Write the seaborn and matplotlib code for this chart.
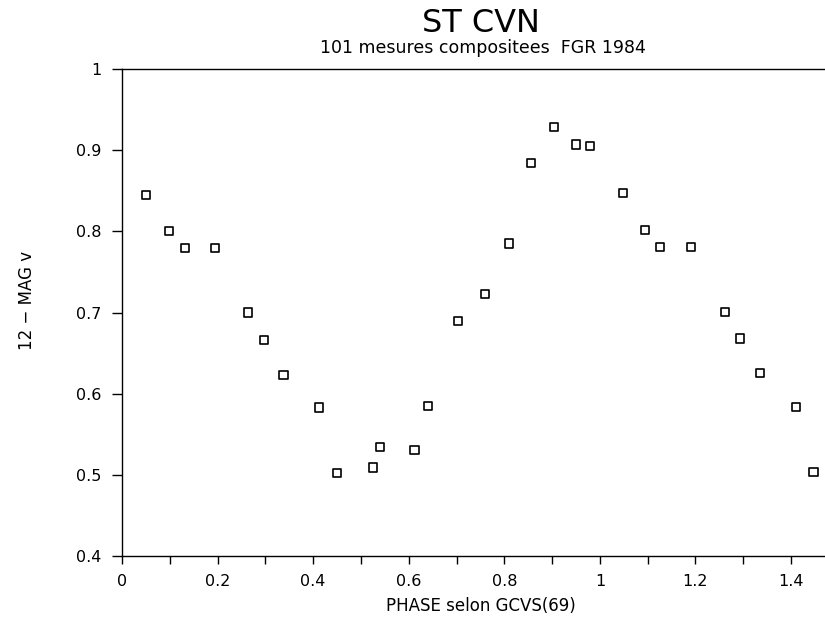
import matplotlib
matplotlib.use("Agg")
import matplotlib.pyplot as plt
import seaborn as sns
import pandas as pd
import numpy as np

# Data
phase = [0.051, 0.099, 0.132, 0.195, 0.264, 0.297, 0.338, 0.412, 0.450,
         0.525, 0.540, 0.612, 0.641, 0.704, 0.760, 0.809, 0.855, 0.903,
         0.950, 0.979, 1.048, 1.095, 1.125, 1.190, 1.261, 1.294, 1.335,
         1.411, 1.447]
mag = [0.845, 0.800, 0.779, 0.779, 0.700, 0.666, 0.623, 0.583, 0.502,
       0.509, 0.534, 0.531, 0.585, 0.689, 0.723, 0.785, 0.884, 0.928,
       0.907, 0.905, 0.847, 0.802, 0.781, 0.781, 0.701, 0.668, 0.625,
       0.584, 0.504]
x_ticks = [0, 0.2, 0.4, 0.6, 0.8, 1.0, 1.2, 1.4]
x_tick_labels = ["0", "0.2", "0.4", "0.6", "0.8", "1", "1.2", "1.4"]
y_ticks = [0.4, 0.5, 0.6, 0.7, 0.8, 0.9, 1.0]
y_tick_labels = ["0.4", "0.5", "0.6", "0.7", "0.8", "0.9", "1"]

title = "ST CVN"
subtitle = "101 mesures compositees  FGR 1984"
xlabel = "PHASE selon GCVS(69)"
ylabel = "12 \u2212 MAG v"

sns.set_style("white")
plt.rcParams['font.family'] = ['DejaVu Sans']
plt.rcParams['text.color'] = 'black'

df = pd.DataFrame({"phase": phase, "mag": mag})

fig = plt.figure(figsize=(8.25, 6.2), dpi=100)
ax = fig.add_axes([122/825, (620-556)/620, 1 - 122/825, (556-69)/620])

sns.scatterplot(data=df, x="phase", y="mag", ax=ax, marker="s", s=34,
                facecolors="none", edgecolor="black", linewidth=1.2,
                legend=False)

ax.set_xlim(0, 1.471)
ax.set_ylim(0.4, 1.0)
ax.set_xticks(x_ticks)
ax.set_xticklabels(x_tick_labels)
ax.set_xticks(np.arange(0.1, 1.5, 0.2), minor=True)
ax.set_yticks(y_ticks)
ax.set_yticklabels(y_tick_labels)

ax.tick_params(axis="both", which="both", direction="out", color="black",
               width=1.0, labelsize=11.5, labelcolor="black")
ax.tick_params(axis="y", length=7, pad=8)
ax.tick_params(axis="x", which="both", length=6, pad=7)
ax.tick_params(axis="x", which="both", bottom=True)
ax.tick_params(axis="y", left=True)

for side in ["left", "top", "bottom"]:
    ax.spines[side].set_visible(True)
    ax.spines[side].set_color("black")
    ax.spines[side].set_linewidth(1.0)
ax.spines["right"].set_visible(False)

ax.set_xlabel("")
ax.set_ylabel("")

fig.text(481/825, 1 - 23/620, title, ha="center", va="center", fontsize=23,
         color="black")
fig.text(483/825, 1 - 48/620, subtitle, ha="center", va="center",
         fontsize=12.5, color="black")
fig.text(481/825, 1 - 606/620, xlabel, ha="center", va="center", fontsize=12,
         color="black")
fig.text(27/825, 1 - 300/620, ylabel, ha="center", va="center", fontsize=12,
         rotation=90, color="black")

fig.savefig("out.png", dpi=100, facecolor="white")
